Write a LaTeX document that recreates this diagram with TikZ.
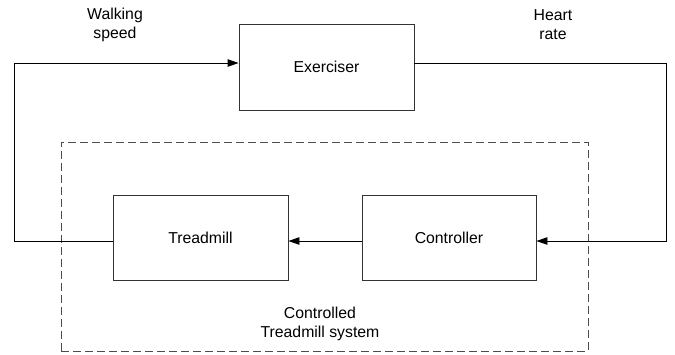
\documentclass[tikz,border=0pt]{standalone}
\usepackage{fontspec}
\setmainfont{Liberation Sans}
\usetikzlibrary{arrows.meta}
\begin{document}
\begin{tikzpicture}[x=1pt,y=-1pt,
  blockbox/.style={draw=black!80, line width=0.9pt, minimum width=175pt, minimum height=85pt, inner sep=0pt, font=\fontsize{15.8}{18.5}\selectfont},
  lbl/.style={align=center, inner sep=0pt, font=\fontsize{15.8}{19}\selectfont},
  conn/.style={line width=0.9pt, draw=black},
  arr/.style={conn, -{Triangle[length=11pt,width=7.5pt]}}
]
\useasboundingbox (0,0) rectangle (675,354);
\node[blockbox, minimum height=86pt] (ex) at (326.5,67) {Exerciser};
\node[blockbox] (tm) at (200.5,237.5) {Treadmill};
\node[blockbox, minimum width=174pt] (ct) at (449,237.5) {Controller};
\node[draw=black!70, dashed, dash pattern=on 8pt off 4pt, line width=0.9pt, minimum width=527pt, minimum height=209pt, inner sep=0pt] (sys) at (324.5,246.5) {};
\node[lbl] (syslbl) at (320,324) {Controlled\\Treadmill system};
\node[lbl] (ws) at (115,25) {Walking\\speed};
\node[lbl] (hr) at (553,25) {Heart\\rate};
\coordinate (lb) at (14,241);
\coordinate (lt) at (14,63);
\coordinate (rt) at (666,63);
\coordinate (rb) at (666,241);
\draw[arr] ([yshift=-3.5pt]tm.west) -- (lb) -- (lt) -- ([yshift=4pt]ex.west);
\draw[arr] ([yshift=4pt]ex.east) -- (rt) -- (rb) -- ([yshift=-3.5pt]ct.east);
\draw[arr] ([yshift=-3.5pt]ct.west) -- ([yshift=-3.5pt]tm.east);
\end{tikzpicture}
\end{document}
